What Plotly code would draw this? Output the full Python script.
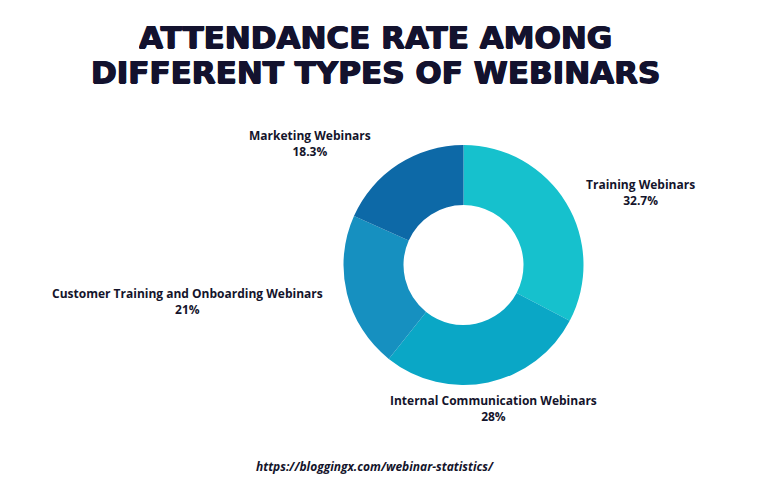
import plotly.graph_objects as go

categories = ["Training Webinars", "Internal Communication Webinars",
              "Customer Training and Onboarding Webinars", "Marketing Webinars"]
values = [32.7, 28, 21, 18.3]
value_labels = ["32.7%", "28%", "21%", "18.3%"]
colors = ["#16c1cd", "#0aa7c6", "#1690c0", "#0d69a7"]
title_lines = ["ATTENDANCE RATE AMONG", "DIFFERENT TYPES OF WEBINARS"]

W, H = 776, 496
cx, cy, R = 463.5, 265, 120

fig = go.Figure(go.Pie(
    labels=categories, values=values, sort=False, direction="clockwise",
    rotation=0, hole=0.5, textinfo="none", hoverinfo="label+percent",
    marker=dict(colors=colors, line=dict(width=0)), showlegend=False,
    domain=dict(x=[(cx - R) / W, (cx + R) / W],
                y=[(H - cy - R) / H, (H - cy + R) / H]),
))

label_pos = [(640, 192), (493, 408), (187, 301), (310, 144)]
annotations = []
for name, val, (x, y) in zip(categories, value_labels, label_pos):
    annotations.append(dict(
        x=x / W, y=1 - y / H, xref="paper", yref="paper",
        text=f"{name}<br>{val}", showarrow=False, align="center",
        xanchor="center", yanchor="middle",
        font=dict(family="Open Sans", size=12, color="#14142b", weight="bold"),
    ))
annotations.append(dict(
    x=375 / W, y=1 - 466 / H, xref="paper", yref="paper",
    text="<i>https://bloggingx.com/webinar-statistics/</i>", showarrow=False,
    xanchor="center", yanchor="middle",
    font=dict(family="Open Sans", size=12, color="#14142b", weight="bold"),
))
for line, y in zip(title_lines, [37, 72]):
    annotations.append(dict(
        x=375 / W, y=1 - y / H, xref="paper", yref="paper",
        text=line, showarrow=False, height=32,
        xanchor="center", yanchor="middle", align="center",
        font=dict(family="DejaVu Sans", size=31, color="#13122e", weight="bold",
                  shadow="0.7px 0 0 #13122e, -0.7px 0 0 #13122e, 0 0.5px 0 #13122e"),
    ))

fig.update_layout(
    width=W, height=H, margin=dict(l=0, r=0, t=0, b=0),
    paper_bgcolor="white", plot_bgcolor="white",
    annotations=annotations,
)
fig.write_html("out.html")
